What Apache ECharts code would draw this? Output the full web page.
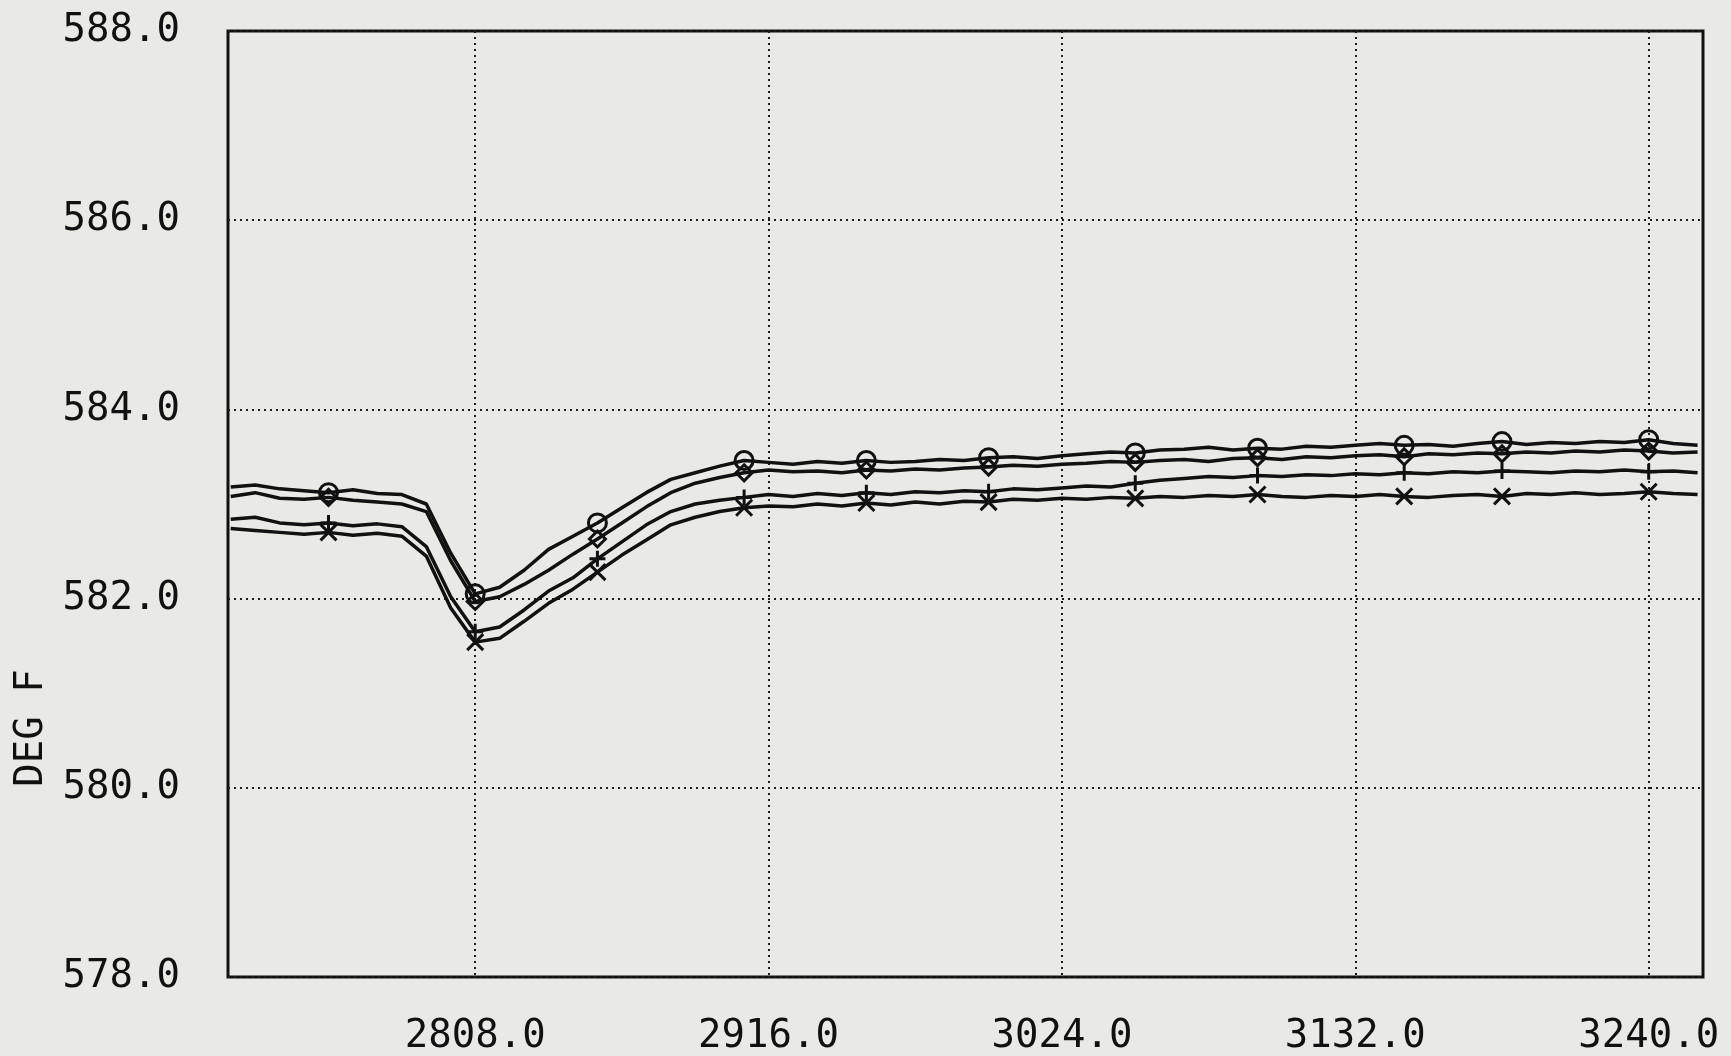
<!DOCTYPE html>
<html>
<head>
<meta charset="utf-8">
<script src="https://cdn.jsdelivr.net/npm/echarts@6/dist/echarts.min.js"></script>
<style>
html,body{margin:0;padding:0;background:#e9e9e7;}
#chart{width:1731px;height:1056px;}
</style>
</head>
<body>
<div id="chart"></div>
<script>
// Time axis samples
const timeVals = [2718,2727,2736,2745,2754,2763,2772,2781,2790,2799,2808,2817,2826,2835,2844,2853,2862,2871,2880,2889,2898,2907,2916,2925,2934,2943,2952,2961,2970,2979,2988,2997,3006,3015,3024,3033,3042,3051,3060,3069,3078,3087,3096,3105,3114,3123,3132,3141,3150,3159,3168,3177,3186,3195,3204,3213,3222,3231,3240,3249,3258];

// Series values (DEG F)
const lineA = [583.18,583.20,583.16,583.14,583.12,583.15,583.11,583.10,583.00,582.48,582.05,582.12,582.30,582.52,582.66,582.80,582.96,583.12,583.26,583.33,583.40,583.46,583.44,583.42,583.45,583.43,583.46,583.44,583.45,583.47,583.46,583.49,583.50,583.48,583.51,583.53,583.55,583.54,583.57,583.58,583.60,583.57,583.59,583.58,583.61,583.60,583.62,583.64,583.62,583.63,583.61,583.64,583.66,583.63,583.65,583.64,583.66,583.65,583.68,583.64,583.62];
const lineB = [583.08,583.12,583.06,583.05,583.07,583.04,583.02,583.00,582.92,582.40,581.97,582.02,582.15,582.30,582.47,582.63,582.80,582.97,583.12,583.22,583.28,583.33,583.36,583.34,583.35,583.33,583.36,583.35,583.37,583.36,583.38,583.39,583.41,583.40,583.42,583.43,583.45,583.44,583.46,583.47,583.45,583.48,583.49,583.47,583.50,583.49,583.51,583.52,583.50,583.53,583.52,583.54,583.53,583.55,583.54,583.56,583.55,583.57,583.56,583.54,583.55];
const lineC = [582.84,582.86,582.80,582.78,582.80,582.77,582.79,582.76,582.55,582.02,581.65,581.70,581.88,582.08,582.22,582.42,582.60,582.78,582.92,583.00,583.04,583.07,583.10,583.08,583.11,583.09,583.12,583.10,583.13,583.12,583.14,583.13,583.16,583.15,583.17,583.19,583.18,583.22,583.25,583.27,583.29,583.28,583.30,583.29,583.31,583.30,583.32,583.31,583.33,583.32,583.34,583.33,583.35,583.34,583.33,583.35,583.34,583.36,583.34,583.35,583.33];
const lineD = [582.74,582.72,582.70,582.68,582.70,582.67,582.69,582.66,582.45,581.90,581.54,581.58,581.76,581.95,582.10,582.28,582.46,582.62,582.78,582.86,582.92,582.96,582.98,582.97,583.00,582.98,583.01,582.99,583.02,583.00,583.03,583.02,583.05,583.04,583.06,583.05,583.07,583.06,583.08,583.07,583.09,583.08,583.10,583.08,583.07,583.09,583.08,583.10,583.08,583.07,583.09,583.10,583.08,583.11,583.10,583.12,583.10,583.11,583.13,583.11,583.10];

// Sample indices that carry a plotting marker
const markerIdx = [4,10,15,21,26,31,37,42,48,52,58];

// Tick labels
const xTicks = [2808,2916,3024,3132,3240];
const yTicks = [578,580,582,584,586,588];

const INK = '#111111';
const FONT = '"DejaVu Sans Mono", "Liberation Mono", monospace';

function mkSeries(vals, sym, size) {
  return {
    type: 'line',
    data: timeVals.map((t, i) => [t, vals[i]]),
    showSymbol: true,
    symbol: (v, p) => markerIdx.indexOf(p.dataIndex) >= 0 ? sym : 'none',
    symbolSize: size,
    lineStyle: { color: INK, width: 3.5 },
    itemStyle: { color: 'rgba(0,0,0,0)', borderColor: INK, borderWidth: 3 },
    emphasis: { disabled: true },
    silent: true,
    z: 3
  };
}

const chart = echarts.init(document.getElementById('chart'), null, { renderer: 'canvas' });
chart.setOption({
  backgroundColor: '#e9e9e7',
  animation: false,
  grid: {
    left: 228, right: 28, top: 31, bottom: 79,
    show: true, borderColor: INK, borderWidth: 3, backgroundColor: 'transparent'
  },
  xAxis: {
    type: 'value', min: 2717, max: 3260,
    axisLine: { show: false },
    axisTick: { show: false, customValues: xTicks },
    axisLabel: {
      customValues: xTicks, margin: 40,
      formatter: v => v.toFixed(1),
      color: INK, fontFamily: FONT, fontSize: 39
    },
    splitLine: { show: true, lineStyle: { color: '#1c1c1c', width: 2, type: [2, 4] } }
  },
  yAxis: {
    type: 'value', min: 578, max: 588, interval: 2,
    axisLine: { show: false },
    axisTick: { show: false },
    axisLabel: {
      margin: 48,
      formatter: v => v.toFixed(1),
      color: INK, fontFamily: FONT, fontSize: 39
    },
    splitLine: { show: true, lineStyle: { color: '#1c1c1c', width: 2, type: [2, 4] } }
  },
  graphic: [{
    type: 'text', x: 32, y: 728, rotation: Math.PI / 2,
    style: { text: 'DEG F', fill: INK, font: '39px ' + FONT, align: 'center', verticalAlign: 'middle' }
  }],
  series: [
    mkSeries(lineA, 'circle', 18),
    mkSeries(lineB, 'diamond', 16),
    mkSeries(lineC, 'path://M5,0L5,10M0,5L10,5', 16),
    mkSeries(lineD, 'path://M0,0L10,10M10,0L0,10', 16)
  ]
});
</script>
</body>
</html>
